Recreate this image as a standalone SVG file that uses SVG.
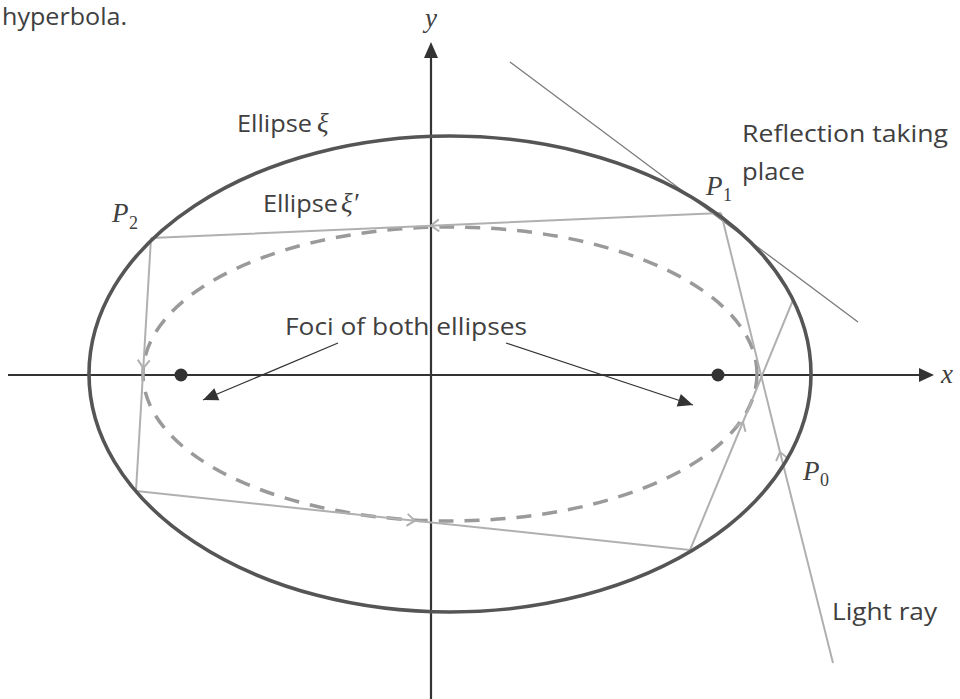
<svg xmlns="http://www.w3.org/2000/svg" width="960" height="699" viewBox="0 0 960 699">
<style>
.sans{font-family:"Open Sans","Noto Sans","Liberation Sans",sans-serif;fill:#404040;font-size:24px}
.math{font-family:"Liberation Serif","DejaVu Serif",serif;font-style:italic;fill:#404040;font-size:27px}
.sub{font-family:"Liberation Serif","DejaVu Serif",serif;fill:#404040;font-size:18px}
.axis{stroke:#333;stroke-width:2.2;fill:none}
.ray{stroke:#b0b0b0;stroke-width:2;fill:none;marker-mid:url(#chev)}
.ann{stroke:#333;stroke-width:1.3;fill:none;marker-end:url(#tri)}
</style>
<defs>
<marker id="chev" viewBox="-10 -8 12 16" markerWidth="12" markerHeight="16" refX="0" refY="0" orient="auto" markerUnits="userSpaceOnUse">
<path d="M-8,-6 L0,0 L-8,6" fill="none" stroke="#b0b0b0" stroke-width="2"/>
</marker>
<marker id="tri" viewBox="-16 -7 17 14" markerWidth="17" markerHeight="14" refX="0" refY="0" orient="auto" markerUnits="userSpaceOnUse">
<path d="M-15,-6.5 L0,0 L-15,6.5 Z" fill="#333"/>
</marker>
</defs>
<rect width="960" height="699" fill="#fff"/>
<text class="sans" x="2" y="25" font-size="20" textLength="125" lengthAdjust="spacingAndGlyphs">hyperbola.</text>

<g id="axes">
<line class="axis" x1="8" y1="375" x2="921" y2="375"/>
<polygon points="934,375 919,368 919,382" fill="#333"/>
<line class="axis" x1="431" y1="699" x2="431" y2="56"/>
<polygon points="431,42 424,58 438,58" fill="#333"/>
<text class="math" x="941" y="383">x</text>
<text class="math" x="425" y="27">y</text>
</g>

<g id="ellipse-inner">
<ellipse cx="450" cy="374" rx="307" ry="147" fill="none" stroke="#9a9a9a" stroke-width="3.5" stroke-dasharray="15 11"/>
</g>

<g id="connectors">
<line x1="510" y1="62" x2="858" y2="322" stroke="#7a7a7a" stroke-width="1.3"/>
<polyline class="ray" points="833,663 780,452 721,213"/>
<polyline class="ray" points="721,213 431,225.7 151,238"/>
<polyline class="ray" points="151,238 143.3,368 136,491"/>
<polyline class="ray" points="136,491 415,520.7 690,550"/>
<polyline class="ray" points="690,550 743,422 793,300"/>
<line class="ann" x1="338" y1="343" x2="203" y2="400"/>
<line class="ann" x1="506" y1="343" x2="693" y2="405"/>
</g>

<g id="ellipse-outer">
<ellipse cx="450" cy="374" rx="361" ry="238" fill="none" stroke="#555" stroke-width="3.6"/>
</g>

<g id="foci">
<circle cx="181" cy="375" r="6.5" fill="#333"/>
<circle cx="718" cy="375" r="6.5" fill="#333"/>
</g>

<g id="labels">
<text class="sans" x="237" y="132" textLength="75" lengthAdjust="spacingAndGlyphs">Ellipse</text>
<text class="math" x="317" y="132">ξ</text>
<text class="sans" x="263" y="212" textLength="75" lengthAdjust="spacingAndGlyphs">Ellipse</text>
<text class="math" x="341" y="212">ξ′</text>
<text class="sans" x="742" y="142" textLength="206" lengthAdjust="spacingAndGlyphs">Reflection taking</text>
<text class="sans" x="742" y="180" textLength="63" lengthAdjust="spacingAndGlyphs">place</text>
<text class="sans" x="285" y="335" textLength="242" lengthAdjust="spacingAndGlyphs">Foci of both ellipses</text>
<text class="sans" x="832" y="620" textLength="105" lengthAdjust="spacingAndGlyphs">Light ray</text>
<text class="math" x="706" y="195">P</text><text class="sub" x="723" y="201">1</text>
<text class="math" x="112" y="222">P</text><text class="sub" x="129" y="229">2</text>
<text class="math" x="803" y="480">P</text><text class="sub" x="820" y="486">0</text>
</g>
</svg>
